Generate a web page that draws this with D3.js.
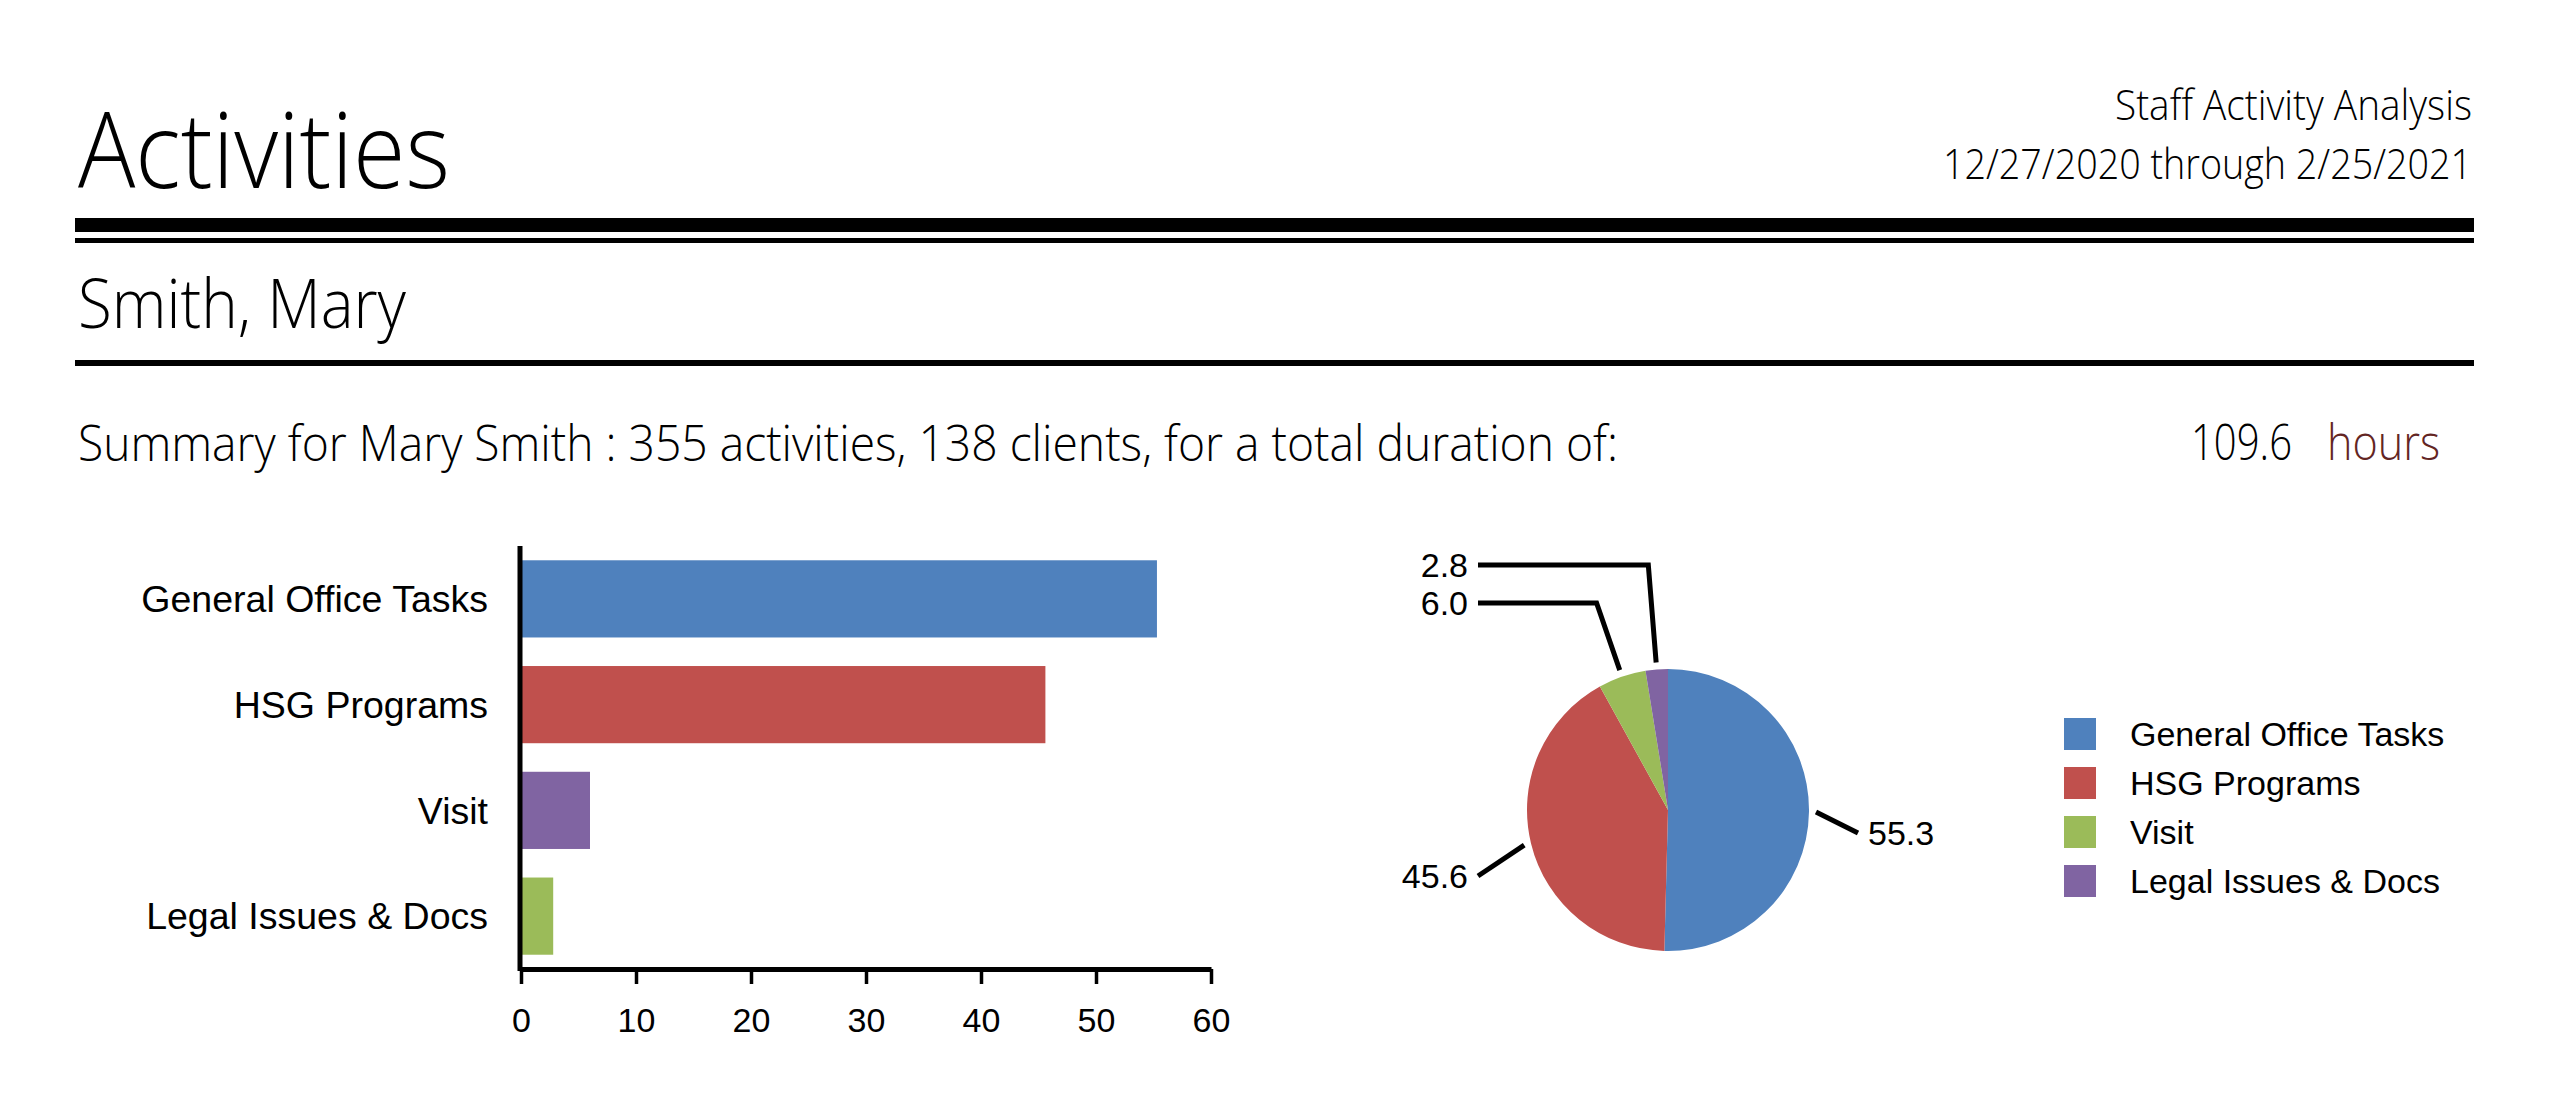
<!DOCTYPE html>
<html>
<head>
<meta charset="utf-8">
<script src="https://cdn.jsdelivr.net/npm/d3@7"></script>
<style>
  body { margin: 0; background: #fff; }
  .hdr { font-family: 'Segoe UI Light', 'Open Sans', 'Noto Sans', sans-serif; font-weight: 300; fill: #000; }
  .chart text { font-family: Arial, 'Liberation Sans', sans-serif; fill: #000; }
</style>
</head>
<body>
<svg id="page"></svg>
<script>
// ---- data ----
const reportTitle = 'Activities';
const reportName = 'Staff Activity Analysis';
const dateRange = '12/27/2020 through 2/25/2021';
const staffName = 'Smith, Mary';
const staffFull = 'Mary Smith';
const activityCount = 355;
const clientCount = 138;
const totalHours = 109.6;

const categories = ['General Office Tasks', 'HSG Programs', 'Visit', 'Legal Issues & Docs'];
const hours = [55.3, 45.6, 6.0, 2.8];
const xTicks = [0, 10, 20, 30, 40, 50, 60];

const barColors = ['#4f81bd', '#c0504d', '#8064a2', '#9bbb59'];
const pieColors = ['#4f81bd', '#c0504d', '#9bbb59', '#8064a2'];

// ---- page ----
const W = 2550, H = 1113;
const svg = d3.select('#page').attr('width', W).attr('height', H);
svg.append('rect').attr('width', W).attr('height', H).attr('fill', '#fff');

// header text is squeezed to the widths of the original (narrower) report font
function hdrText(g, str, xPos, yPos, size, len, anchor) {
  return g.append('text').text(str)
    .attr('x', xPos).attr('y', yPos)
    .attr('text-anchor', anchor || 'start')
    .attr('textLength', len).attr('lengthAdjust', 'spacingAndGlyphs')
    .style('font-size', size + 'px');
}

/////Header/////
let header = svg.append('g').classed('hdr', true);
hdrText(header, reportTitle, 78, 188, 105, 372);
hdrText(header, reportName, 2472, 120, 43, 357, 'end');
hdrText(header, dateRange, 2472, 179, 43, 529, 'end');

header.append('rect').attr('x', 75).attr('y', 218).attr('width', 2399).attr('height', 14);
header.append('rect').attr('x', 75).attr('y', 238).attr('width', 2399).attr('height', 5);

hdrText(header, staffName, 78, 328, 69, 328);
header.append('rect').attr('x', 75).attr('y', 360).attr('width', 2399).attr('height', 6);

hdrText(header, 'Summary for ' + staffFull + ' : ' + activityCount + ' activities, ' + clientCount +
  ' clients, for a total duration of:', 78, 461, 49, 1540);
hdrText(header, totalHours.toFixed(1), 2292, 460, 49, 101, 'end');
hdrText(header, 'hours', 2440, 460, 49, 113, 'end').style('fill', '#632523');

/////Bar chart/////
let bars = svg.append('g').classed('chart', true);
let x = d3.scaleLinear().domain([0, 60]).range([521, 1211]);
let y = d3.scaleBand().domain(categories).range([546, 969]).paddingInner(0.27).paddingOuter(0.135);

bars.selectAll('.bar').data(hours).enter().append('rect').classed('bar', true)
  .attr('x', x(0))
  .attr('y', (d, i) => y(categories[i]))
  .attr('width', d => x(d) - x(0))
  .attr('height', y.bandwidth())
  .attr('fill', (d, i) => barColors[i]);

bars.selectAll('.cat').data(categories).enter().append('text').classed('cat', true)
  .text(d => d)
  .attr('x', 488)
  .attr('y', d => y(d) + y.bandwidth() / 2)
  .attr('dy', '0.35em')
  .attr('text-anchor', 'end')
  .style('font-size', '37.5px');

let xAxis = bars.append('g').attr('transform', 'translate(0,969)')
  .call(d3.axisBottom(x).tickValues(xTicks).tickSize(15).tickSizeOuter(0).tickPadding(24));
xAxis.select('.domain').attr('stroke', '#000').attr('stroke-width', 5);
xAxis.selectAll('.tick line').attr('stroke', '#000').attr('stroke-width', 3.5);
xAxis.selectAll('.tick text').style('font-size', '34px').attr('fill', '#000');

bars.append('line').attr('x1', x(0) - 1).attr('x2', x(0) - 1).attr('y1', 546).attr('y2', 971)
  .attr('stroke', '#000').attr('stroke-width', 5);

/////Pie chart/////
let cx = 1668, cy = 810, r = 141;
let pie = svg.append('g').classed('chart', true).attr('transform', 'translate(' + cx + ',' + cy + ')');
let arcs = d3.pie().sort(null).value(d => d)(hours);
let arcGen = d3.arc().innerRadius(0).outerRadius(r);

pie.selectAll('.slice').data(arcs).enter().append('path').classed('slice', true)
  .attr('d', arcGen)
  .attr('fill', (d, i) => pieColors[i]);

// label rows (offset from the pie centre), leader end sits 190px left/right of centre
const labelRows = [23, 66, -207, -245];
let leaderPts = arcs.map((a, i) => {
  let mid = (a.startAngle + a.endAngle) / 2;
  let sx = Math.sin(mid), sy = -Math.cos(mid);
  let start = [sx * (r + 7), sy * (r + 7)];
  let side = sx >= 0 ? 1 : -1;
  let ly = labelRows[i];
  let pts = [start];
  if (Math.abs(ly - start[1]) > 50) {
    // elbow: follow the radial direction up to the label row
    let t = ly / sy;
    pts.push([sx * t, ly]);
  }
  pts.push([side * 190, ly]);
  return { pts: pts, side: side, y: ly, value: a.data };
});

pie.selectAll('.leader').data(leaderPts).enter().append('polyline').classed('leader', true)
  .attr('points', d => d.pts.map(p => p.join(',')).join(' '))
  .attr('fill', 'none').attr('stroke', '#000').attr('stroke-width', 5);

pie.selectAll('.plabel').data(leaderPts).enter().append('text').classed('plabel', true)
  .text(d => d.value.toFixed(1))
  .attr('x', d => d.side * 200)
  .attr('y', d => d.y)
  .attr('dy', '0.35em')
  .attr('text-anchor', d => d.side > 0 ? 'start' : 'end')
  .style('font-size', '34px');

/////Legend/////
let legend = svg.append('g').classed('chart', true).attr('transform', 'translate(2064,718)');
let items = legend.selectAll('.item').data(categories).enter().append('g').classed('item', true)
  .attr('transform', (d, i) => 'translate(0,' + (i * 49) + ')');
items.append('rect').attr('width', 32).attr('height', 32).attr('fill', (d, i) => pieColors[i]);
items.append('text').text(d => d).attr('x', 66).attr('y', 16).attr('dy', '0.36em').style('font-size', '34px');
</script>
</body>
</html>
